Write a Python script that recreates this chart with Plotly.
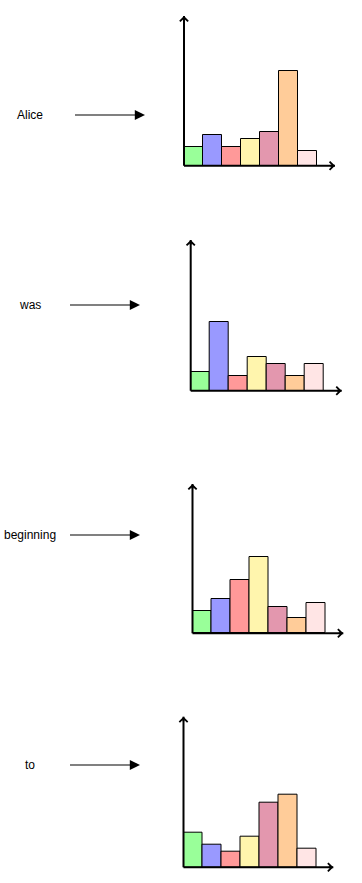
import plotly.graph_objects as go

W, H = 362, 883

words = ["Alice", "was", "beginning", "to"]
categories = ["c1", "c2", "c3", "c4", "c5", "c6", "c7"]
values_alice = [5, 8, 5, 7, 9, 25, 4]
values_was = [5, 18, 4, 9, 7, 4, 7]
values_beginning = [6, 9, 14, 20, 7, 4, 8]
values_to = [9, 6, 4, 8, 17, 19, 5]
series = [values_alice, values_was, values_beginning, values_to]
bar_colors = ["#99FF99", "#9999FF", "#FF9999", "#FFF5AD", "#E397AE", "#FFCC99", "#FFE5E5"]

# layout geometry (pixels) for each panel: y-axis x, x-axis end, baseline y, y-axis top
panels = [
    dict(x0=184.0, xend=335.0, yb=165.7, yt=16.0, label_y=115, ax0=75, ax1=145),
    dict(x0=190.7, xend=341.7, yb=390.7, yt=240.0, label_y=305, ax0=70, ax1=140),
    dict(x0=192.5, xend=343.3, yb=633.3, yt=484.0, label_y=535, ax0=70, ax1=140),
    dict(x0=183.5, xend=333.3, yb=867.3, yt=716.7, label_y=765, ax0=70, ax1=140),
]
BAR_PX = 18.93   # pixel width of one category
UNIT_PX = 3.8    # pixel height of one value unit

fig = go.Figure()
annotations = []
shapes = []
for i, (p, vals, word) in enumerate(zip(panels, series, words)):
    n = i + 1
    xa = "x" if n == 1 else f"x{n}"
    ya = "y" if n == 1 else f"y{n}"
    fig.add_trace(go.Bar(
        x=list(range(len(categories))), y=vals, width=1,
        marker=dict(color=bar_colors, line=dict(color="#000000", width=1)),
        xaxis=xa, yaxis=ya, showlegend=False, hoverinfo="skip",
    ))
    xr = [-0.5, -0.5 + (p["xend"] - p["x0"]) / BAR_PX]
    yr = [0, (p["yb"] - p["yt"]) / UNIT_PX]
    xdom = [p["x0"] / W, p["xend"] / W]
    ydom = [1 - p["yb"] / H, 1 - p["yt"] / H]
    axcommon = dict(showgrid=False, zeroline=False, showticklabels=False, ticks="",
                    showline=False, fixedrange=True)
    fig.layout[f"xaxis{'' if n == 1 else n}"] = dict(domain=xdom, range=xr, anchor=ya, **axcommon)
    fig.layout[f"yaxis{'' if n == 1 else n}"] = dict(domain=ydom, range=yr, anchor=xa, **axcommon)

    # axis lines
    shapes.append(dict(type="line", xref="paper", yref="paper",
                       x0=p["x0"] / W, x1=p["xend"] / W, y0=1 - p["yb"] / H, y1=1 - p["yb"] / H,
                       line=dict(color="#000000", width=2)))
    shapes.append(dict(type="line", xref="paper", yref="paper",
                       x0=p["x0"] / W, x1=p["x0"] / W, y0=1 - p["yb"] / H, y1=1 - p["yt"] / H,
                       line=dict(color="#000000", width=2)))
    # axis arrowheads (open chevrons)
    annotations.append(dict(xref="paper", yref="paper", x=p["xend"] / W, y=1 - p["yb"] / H,
                            ax=-6, ay=0, text="", showarrow=True, arrowhead=4,
                            arrowsize=0.8, arrowwidth=2, arrowcolor="#000000"))
    annotations.append(dict(xref="paper", yref="paper", x=p["x0"] / W, y=1 - p["yt"] / H,
                            ax=0, ay=6, text="", showarrow=True, arrowhead=4,
                            arrowsize=0.8, arrowwidth=2, arrowcolor="#000000"))
    # word label
    annotations.append(dict(xref="paper", yref="paper", x=29.5 / W, y=1 - p["label_y"] / H,
                            text=word, showarrow=False, xanchor="center", yanchor="middle",
                            font=dict(family="Liberation Sans, Arial, sans-serif", size=12, color="#000000")))
    # connector arrow: gray line + black head
    shapes.append(dict(type="line", xref="paper", yref="paper",
                       x0=p["ax0"] / W, x1=(p["ax1"] - 4) / W,
                       y0=1 - p["label_y"] / H, y1=1 - p["label_y"] / H,
                       line=dict(color="#808080", width=2)))
    annotations.append(dict(xref="paper", yref="paper", x=p["ax1"] / W, y=1 - p["label_y"] / H,
                            ax=-6, ay=0, text="", showarrow=True, arrowhead=2,
                            arrowsize=1.2, arrowwidth=1.7, arrowcolor="#000000"))

fig.update_layout(
    width=W, height=H, margin=dict(l=0, r=0, t=0, b=0),
    paper_bgcolor="#FFFFFF", plot_bgcolor="rgba(0,0,0,0)",
    bargap=0, annotations=annotations, shapes=shapes,
)
fig.write_html("out.html", config={"displayModeBar": False})
